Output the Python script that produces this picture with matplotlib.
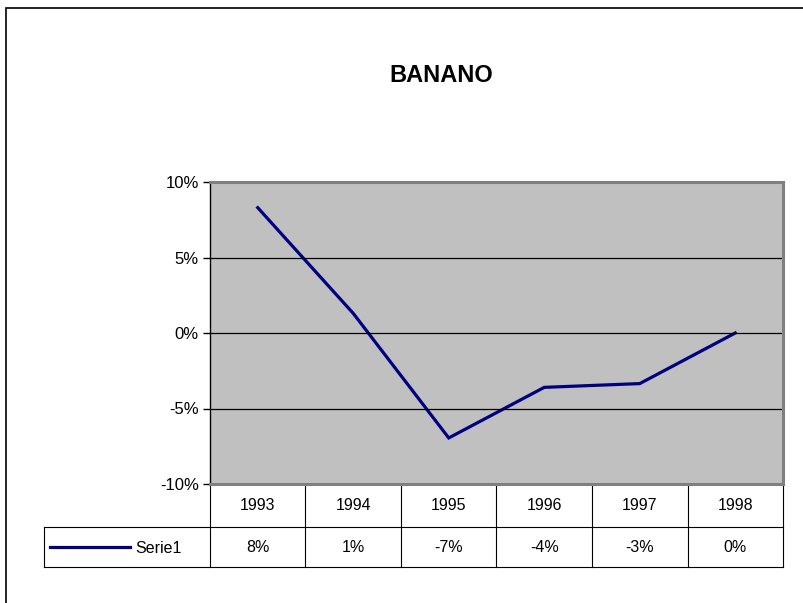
import matplotlib.pyplot as plt
import matplotlib.transforms as mtransforms
from matplotlib.patches import Rectangle
from matplotlib.ticker import FuncFormatter

plt.rcParams['font.family'] = ['Liberation Sans', 'DejaVu Sans']

# data
years = ['1993', '1994', '1995', '1996', '1997', '1998']
values = [8.3, 1.3, -6.95, -3.6, -3.35, 0.0]   # percent
table_labels = ['8%', '1%', '-7%', '-4%', '-3%', '0%']
series_name = 'Serie1'

W, H = 804, 603
fig = plt.figure(figsize=(W / 100, H / 100), dpi=100)

# outer chart border (right and bottom run off the picture)
fig.patches.append(Rectangle((6 / W, -0.1), 1.2, 1 - 8 / H + 0.1,
                             transform=fig.transFigure, fill=False,
                             edgecolor='black', linewidth=1.2))

left, right, top, bottom = 210, 783, 182, 484
ax = fig.add_axes([left / W, 1 - bottom / H, (right - left) / W, (bottom - top) / H])
ax.set_facecolor('#c0c0c0')

x = list(range(len(years)))
ax.plot(x, values, color='#000080', linewidth=2.3, solid_joinstyle='miter')

ax.set_xlim(-0.5, len(years) - 0.5)
ax.set_ylim(-10, 10)
ax.set_yticks([-10, -5, 0, 5, 10])
ax.yaxis.set_major_formatter(FuncFormatter(lambda v, p: f'{v:.0f}%'))
ax.tick_params(axis='y', length=5, width=1, labelsize=12, pad=3)
ax.set_xticks([])
for v in [-5, 0, 5]:
    ax.axhline(v, color='black', linewidth=0.9)

for s in ['top', 'right', 'bottom']:
    ax.spines[s].set_color('#808080')
    ax.spines[s].set_linewidth(2.2)
ax.spines['left'].set_color('black')
ax.spines['left'].set_linewidth(1)

fig.text(441 / W, 1 - 76 / H, 'BANANO', ha='center', va='center',
         fontsize=17, fontweight='bold')

# data table below the plot
ph = bottom - top
row1_y = -(527 - bottom) / ph
row2_y = -(567 - bottom) / ph
blend = mtransforms.blended_transform_factory(ax.transData, ax.transAxes)
unit = (right - left) / len(years)
tab_left = -0.5 - (left - 44) / unit

line_kw = dict(color='black', linewidth=0.8, clip_on=False, transform=blend)
for b in [i + 0.5 for i in range(-1, len(years))]:
    ax.plot([b, b], [0, row2_y], **line_kw)
ax.plot([tab_left, len(years) - 0.5], [row1_y, row1_y], **line_kw)
ax.plot([tab_left, len(years) - 0.5], [row2_y, row2_y], **line_kw)
ax.plot([tab_left, tab_left], [row1_y, row2_y], **line_kw)

for i, (yr, lab) in enumerate(zip(years, table_labels)):
    ax.text(i, row1_y / 2, yr, transform=blend, ha='center', va='center', fontsize=11.5)
    ax.text(i, (row1_y + row2_y) / 2, lab, transform=blend, ha='center', va='center', fontsize=11.5)

leg_x0 = -0.5 - (left - 50) / unit
leg_x1 = -0.5 - (left - 130) / unit
ymid = (row1_y + row2_y) / 2
ax.plot([leg_x0, leg_x1], [ymid, ymid], color='#000080', linewidth=2.3,
        clip_on=False, transform=blend)
ax.text(-0.5 - (left - 135) / unit, ymid - 0.006, series_name, transform=blend,
        ha='left', va='center', fontsize=11.5)

fig.savefig('out.png', dpi=100)
